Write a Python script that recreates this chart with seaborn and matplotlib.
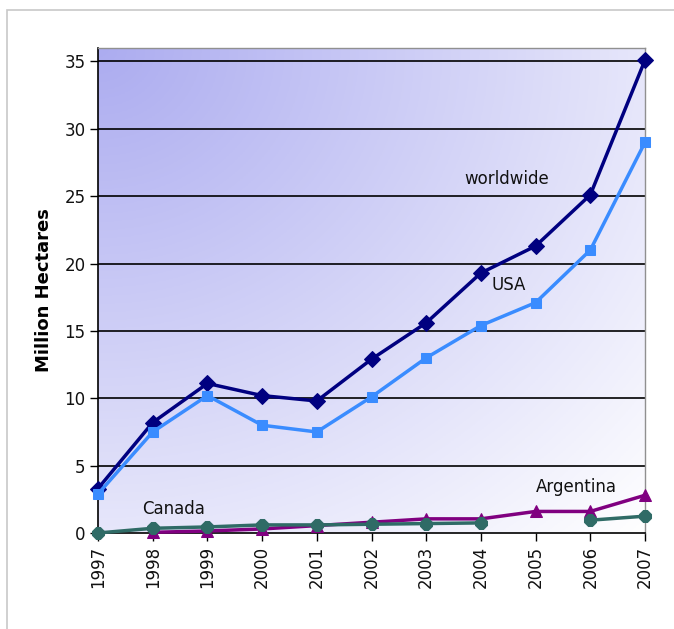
import numpy as np
import pandas as pd
import matplotlib.pyplot as plt
import matplotlib.patches as mpatches
import seaborn as sns

years = list(range(1997, 2008))
worldwide = [3.3, 8.2, 11.1, 10.2, 9.8, 12.9, 15.6, 19.3, 21.3, 25.1, 35.1]
usa = [2.9, 7.5, 10.2, 8.0, 7.5, 10.1, 13.0, 15.4, 17.1, 21.0, 29.0]
argentina = [np.nan, 0.05, 0.15, 0.3, 0.55, 0.8, 1.05, 1.05, 1.6, 1.6, 2.8]
canada = [0.0, 0.35, 0.45, 0.6, 0.6, 0.65, 0.7, 0.75, np.nan, 0.95, 1.25]

sns.set_theme(style="white")
plt.rcParams["font.family"] = ["DejaVu Sans"]

fig = plt.figure(figsize=(6.74, 6.29), dpi=100)
fig.patches.append(mpatches.Rectangle((7 / 674, -0.1), 1.2, 1 - 10 / 629 + 0.1,
                                      transform=fig.transFigure, fill=False,
                                      edgecolor="#c8c8c8", linewidth=1.2))
ax = fig.add_axes([98 / 674, 1 - 533 / 629, (645 - 98) / 674, (533 - 48) / 629])

# corner gradient background, darkest at the top-left
n = 200
xx, yy = np.meshgrid(np.linspace(0, 1, n), np.linspace(0, 1, n))
t = np.clip(np.sqrt(xx ** 2 + yy ** 2) / np.sqrt(2), 0, 1)
top = np.array([172, 172, 240]) / 255
bot = np.array([255, 255, 255]) / 255
img = top[None, None, :] * (1 - t[..., None]) + bot[None, None, :] * t[..., None]
ax.imshow(img, extent=[0, 1, 0, 1], transform=ax.transAxes, aspect="auto",
          origin="upper", zorder=0)

for y in range(5, 36, 5):
    ax.axhline(y, color="black", linewidth=1.2, zorder=1)

series = [
    (worldwide, "#000080", "D", 8),
    (usa, "#3a8cff", "s", 7),
    (argentina, "#800080", "^", 9),
    (canada, "#2f6b66", "8", 9),
]
for vals, color, marker, ms in series:
    df = pd.DataFrame({"year": years, "value": vals})
    # split at missing years so the line breaks there
    df["seg"] = df["value"].isna().cumsum()
    df = df.dropna()
    sns.lineplot(data=df, x="year", y="value", units="seg", estimator=None, ax=ax,
                 color=color, linewidth=2.5, marker=marker, markersize=ms,
                 markeredgecolor=color, clip_on=False, zorder=3)

ax.set_xlim(1997, 2007)
ax.set_ylim(0, 36)
ax.set_xticks(years)
ax.set_xticklabels([str(y) for y in years], rotation=90, fontsize=12)
ax.set_yticks(range(0, 36, 5))
ax.set_yticklabels([str(y) for y in range(0, 36, 5)], fontsize=12)
ax.tick_params(axis="both", direction="out", length=6, width=1, color="black",
               bottom=True, left=True, pad=3, labelcolor="#111111")
ax.set_xlabel("")
ax.set_ylabel("Million Hectares", fontsize=13, fontweight="bold", labelpad=8,
              color="black")

for side in ["top", "right"]:
    ax.spines[side].set_color("#909090")
    ax.spines[side].set_linewidth(1)
for side in ["left", "bottom"]:
    ax.spines[side].set_color("black")
    ax.spines[side].set_linewidth(1.2)

ax.text(2003.7, 26.3, "worldwide", fontsize=12, color="#111111", ha="left", va="center")
ax.text(2004.2, 18.4, "USA", fontsize=12, color="#111111", ha="left", va="center")
ax.text(2005.0, 3.4, "Argentina", fontsize=12, color="#111111", ha="left", va="center")
ax.text(1997.8, 1.8, "Canada", fontsize=12, color="#111111", ha="left", va="center")

fig.savefig("out.png", dpi=100)
